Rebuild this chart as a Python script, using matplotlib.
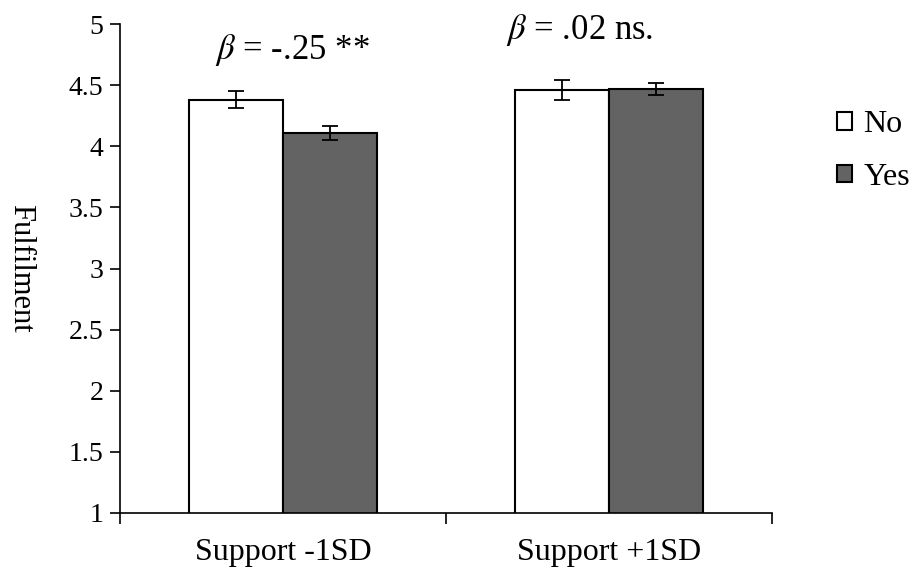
import numpy as np
import matplotlib.pyplot as plt
from matplotlib.patches import Patch

plt.rcParams['font.family'] = ['Liberation Serif', 'DejaVu Serif']
plt.rcParams['mathtext.fontset'] = 'stix'

# data
categories = ['Support -1SD', 'Support +1SD']
no_vals = [4.38, 4.46]
yes_vals = [4.11, 4.47]
no_err = [0.07, 0.08]
yes_err = [0.055, 0.05]
annotations = [r'$\beta$ = -.25 **', r'$\beta$ = .02 ns.']

fig = plt.figure(figsize=(9.17, 5.72), dpi=100)
ax = fig.add_axes([120/917, 1-513/572, (772-120)/917, (513-24)/572])

x = np.arange(len(categories))
w = 0.287
ekw = dict(ecolor='black', elinewidth=1.3, capsize=6, capthick=1.3)
ax.bar(x - w/2, no_vals, w, yerr=no_err, color='white',
       edgecolor='black', linewidth=1.5, error_kw=ekw)
ax.bar(x + w/2, yes_vals, w, yerr=yes_err, color='#636363',
       edgecolor='black', linewidth=1.5, error_kw=ekw)

ax.set_ylim(1, 5)
ax.set_xlim(-0.5, 1.5)
ax.set_yticks(np.arange(1, 5.01, 0.5))
ax.set_yticklabels(['1', '1.5', '2', '2.5', '3', '3.5', '4', '4.5', '5'])
ax.set_xticks(x)
ax.set_xticklabels(categories, fontsize=23)
ax.set_xticks([-0.5, 0.5, 1.5], minor=True)
ax.tick_params(axis='x', which='major', length=0, pad=18)
ax.tick_params(axis='x', which='minor', length=8, width=1.2, direction='out')
ax.tick_params(axis='y', labelsize=20, length=7, width=1.2, direction='out', pad=5)
for s in ['top', 'right']:
    ax.spines[s].set_visible(False)
for s in ['left', 'bottom']:
    ax.spines[s].set_linewidth(1.2)

ax.set_ylabel('Fulfilment', rotation=270, fontsize=22, va='center')
ax.yaxis.set_label_coords(-0.152, 0.5)

ax.text(0.03, 4.79, annotations[0], ha='center', va='center', fontsize=25)
ax.text(0.91, 4.95, annotations[1], ha='center', va='center', fontsize=25)

handles = [Patch(facecolor='white', edgecolor='black', linewidth=1.5),
           Patch(facecolor='#636363', edgecolor='black', linewidth=1.5)]
fig.legend(handles, ['No', 'Yes'], loc='upper left',
           bbox_to_anchor=(837/917, 1-110/572), frameon=False, fontsize=23,
           handlelength=0.48, handleheight=0.48, handletextpad=0.35,
           labelspacing=0.75, borderaxespad=0, borderpad=0)

fig.savefig('out.png', dpi=100)
